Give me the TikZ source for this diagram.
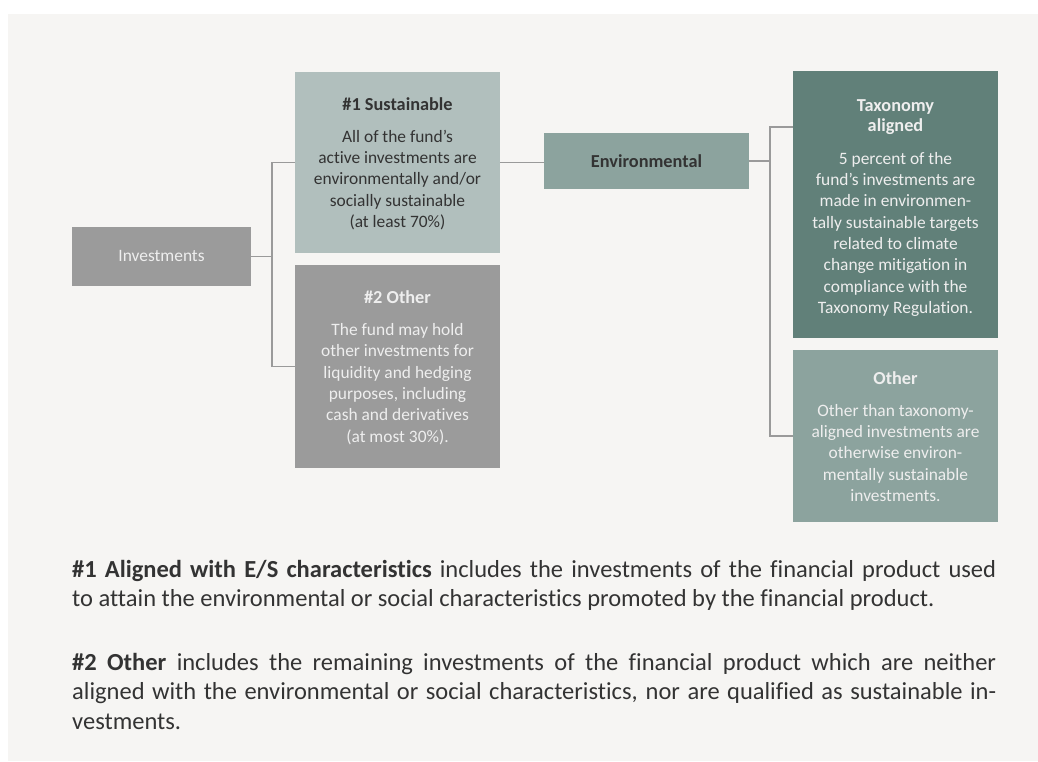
\documentclass[tikz,border=0pt]{standalone}
\usepackage{fontspec}
\setmainfont{Carlito}[Ligatures={TeX,NoCommon}]
\definecolor{panel}{HTML}{F6F5F3}
\definecolor{greybox}{HTML}{9B9B9B}
\definecolor{susbox}{HTML}{B1BFBD}
\definecolor{envbox}{HTML}{8CA39E}
\definecolor{taxbox}{HTML}{618079}
\definecolor{darktext}{HTML}{333333}
\definecolor{lighttext}{HTML}{EEEEEE}
\definecolor{connline}{HTML}{9A9A9A}
\newcommand{\ttl}[1]{{\fontsize{18.3}{21.3}\selectfont\bfseries #1}}
\newcommand{\fline}[1]{\hbox to 924pt{#1}}
\begin{document}
\begin{tikzpicture}[x=1pt,y=-1pt,
  box/.style={draw=none, inner sep=0, anchor=north west},
  boxtext/.style={align=center, inner sep=0, anchor=north, font=\fontsize{17.4}{21.3}\selectfont},
  onetext/.style={inner sep=0, anchor=base, font=\fontsize{17.4}{21.3}\selectfont},
  conn/.style={draw=connline, line width=1.5pt},
  foot/.style={align=left, inner sep=0, anchor=north west, text=darktext,
    font=\fontsize{24.5}{29.5}\selectfont}]
\useasboundingbox (0,0) rectangle (1038,761);
\fill[white] (0,0) rectangle (1038,761);
\fill[panel] (8,14) rectangle (1038,761);
% boxes
\node[box, fill=greybox, minimum width=179, minimum height=59] (inv) at (72,227) {};
\node[box, fill=susbox, minimum width=205, minimum height=181] (sus) at (295,72) {};
\node[box, fill=greybox, minimum width=205, minimum height=203] (oth2) at (295,265) {};
\node[box, fill=envbox, minimum width=205, minimum height=56] (env) at (544,133) {};
\node[box, fill=taxbox, minimum width=205, minimum height=267] (tax) at (793,71) {};
\node[box, fill=envbox, minimum width=205, minimum height=172] (oth) at (793,350) {};
% texts
\node[onetext, text=lighttext] (invt) at (161.5,261.5) {Investments};
\node[onetext, text=darktext] (envt) at (646.5,167.5) {\ttl{Environmental}};
\node[boxtext, text=darktext] (sust) at (397.5,95.1) {\strut\ttl{\#1 Sustainable}\\[10.7pt]
  All of the fund’s\\ active investments are\\ environmentally and/or\\ socially sustainable\\ (at least 70\%)};
\node[boxtext, text=lighttext] (oth2t) at (397.5,288.4) {\strut\ttl{\#2 Other}\\[10.7pt]
  The fund may hold\\ other investments for\\ liquidity and hedging\\ purposes, including\\ cash and derivatives\\ (at most 30\%).};
\node[boxtext, text=lighttext] (taxt) at (895.5,96.8) {\strut\ttl{Taxonomy}\\[-1.3pt] \ttl{aligned}\\[11pt]
  5 percent of the\\ fund's investments are\\ made in environmen-\\ tally sustainable targets\\ related to climate\\ change mitigation in\\ compliance with the\\ Taxonomy Regulation.};
\node[boxtext, text=lighttext] (otht) at (895.5,369.1) {\strut\ttl{Other}\\[10.7pt]
  Other than taxonomy-\\ aligned investments are\\ otherwise environ-\\ mentally sustainable\\ investments.};
% connectors
\coordinate (j1) at (272,0);
\coordinate (j2) at (770,127);
\draw[conn] (inv.east) -- (inv.east -| j1);
\draw[conn] (sus.west) -| (j1 |- oth2.west) -- (oth2.west);
\draw[conn] (sus.east) -- (sus.east -| env.west);
\draw[conn] (env.east) -- (env.east -| j2);
\draw[conn] (tax.west |- j2) -- (j2) |- (oth.west);
% footnote
\node[foot] (note) at (72,556.4) {%
  \fline{\strut\textbf{\#1 Aligned with E/S characteristics} includes the investments of the financial product used}\\
  to attain the environmental or social characteristics promoted by the financial product.\\[34pt]
  \fline{\textbf{\#2 Other} includes the remaining investments of the financial product which are neither}\\
  \fline{aligned with the environmental or social characteristics, nor are qualified as sustainable in-}\\
  vestments.};
\end{tikzpicture}
\end{document}
